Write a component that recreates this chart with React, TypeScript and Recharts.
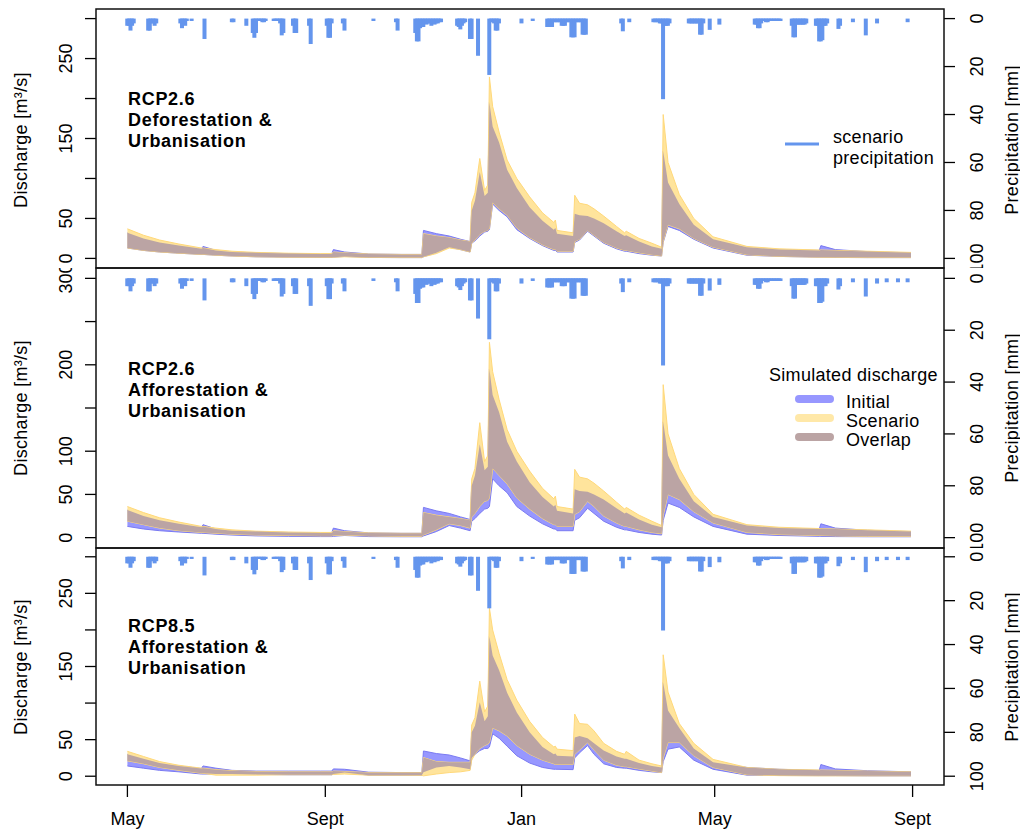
import React from 'react';
import { ComposedChart, Area, Bar, XAxis, YAxis } from 'recharts';

// ---------- data ----------
const N_DAYS = 488; // 1 May .. 31 Aug of the following year

const monthTickDays = [0, 123, 245, 365, 488];
const monthTickLabels = ['May', 'Sept', 'Jan', 'May', 'Sept'];
const dischargeTicks = [0, 50, 100, 150, 200, 250, 300];
const precipTicks = [0, 20, 40, 60, 80, 100];

const panelTitles = [
  ['RCP2.6', 'Deforestation &', 'Urbanisation'],
  ['RCP2.6', 'Afforestation &', 'Urbanisation'],
  ['RCP8.5', 'Afforestation &', 'Urbanisation'],
];
const legendLabels = ['Initial', 'Scenario', 'Overlap'];

// daily precipitation (day index, mm), zero days omitted
const precipEvents: [number, number][] = [
  [0, 3], [1, 3], [2, 5], [3, 3], [4, 2],
  [13, 5], [14, 5], [15, 2], [16, 2], [17, 3], [18, 2],
  [33, 2], [34, 4], [35, 2], [36, 3], [37, 1], [40, 1], [48, 8.5],
  [65, 1.5], [66, 1.5], [74, 3],
  [78, 6], [79, 8], [80, 6], [81, 1], [82, 1], [83, 1], [84, 1.5], [85, 1.5], [86, 1],
  [91, 1], [92, 1], [93, 1], [94, 1], [95, 2], [96, 7], [97, 6],
  [103, 3], [104, 6], [105, 6], [113, 3], [114, 10.6],
  [124, 3], [125, 8], [126, 8], [127, 2], [134, 2], [135, 5], [153, 1],
  [167, 1.5], [168, 5],
  [179, 6], [180, 9.5], [181, 9.5], [182, 4], [183, 3.5], [184, 3.5], [185, 2], [186, 2.5],
  [187, 2], [188, 2], [189, 3], [190, 2], [191, 2.5], [192, 2], [193, 2], [194, 1.5], [195, 1.5],
  [205, 3], [206, 3.5], [207, 4.5], [208, 3], [209, 2], [210, 1.5],
  [213, 8.5], [214, 8.5], [218, 15.5],
  [225, 23.5], [226, 1.5], [227, 1.5], [228, 2], [229, 5], [230, 5], [231, 2],
  [245, 2], [252, 1],
  [261, 3.5], [262, 3.5], [263, 3.5], [264, 3.5], [265, 1.5], [266, 1.5], [267, 1.5], [268, 1.5],
  [269, 1.5], [270, 3], [271, 3], [272, 3], [273, 1.5], [274, 1.5], [275, 1.5], [276, 7.8],
  [277, 7.8], [278, 7.8], [279, 1.5], [280, 1.5], [281, 1.5], [282, 1.5], [283, 6.7], [284, 6.7], [285, 6.7],
  [307, 2], [308, 5.3], [312, 1.5],
  [327, 1.5], [328, 1.5], [329, 1.5], [330, 1.5], [331, 2], [332, 2], [333, 33.6], [334, 3],
  [335, 3], [336, 3], [337, 2],
  [349, 2], [350, 2], [351, 2], [352, 2], [353, 2], [354, 2], [355, 2], [356, 6.7], [357, 6.7], [358, 2],
  [362, 4.7], [368, 2.5],
  [390, 2.5], [391, 2.5], [392, 4], [393, 4], [394, 2], [395, 1], [396, 1], [397, 1.5], [398, 1.5],
  [399, 1], [400, 1], [401, 1], [402, 1], [403, 1], [404, 1], [405, 1], [406, 1],
  [413, 3], [414, 7.8], [415, 7.8], [416, 2.5], [417, 2.5], [418, 2.5], [419, 2.5], [420, 2.5], [421, 2.5], [422, 2],
  [428, 3], [429, 3], [430, 9.5], [431, 9.5], [432, 9], [433, 3], [434, 3], [435, 2],
  [442, 4.3], [443, 3], [451, 1.5], [459, 7], [466, 2], [485, 1.5],
];
const precipLateExtra: [number, number][] = [[472, 1.5], [479, 1.5]];

// discharge key days (m3/s values given at these days)
const keyDays = [
  0, 10, 20, 32, 46, 47, 55, 65, 80, 100,
  120, 127, 128, 135, 150, 170, 183, 184, 192, 200,
  207, 213, 214, 216, 219, 222, 224, 225, 227, 231,
  236, 242, 250, 258, 265, 266, 267, 277, 278, 281,
  286, 290, 296, 304, 309, 310, 318, 326, 332, 333,
  336, 343, 352, 364, 385, 405, 430, 431, 440, 460,
  487,
];

// RCP2.6 initial land use (shared by panels 1 and 2)
const initHi26 = [
  32, 25, 20, 16, 12, 15, 10, 8, 7, 6,
  5.5, 5.5, 11, 8, 5.5, 5, 5, 35, 31, 28,
  24, 21, 60, 72, 108, 78, 82, 195, 165, 145,
  111, 88, 64, 47, 36, 38, 31, 28, 56, 54,
  53, 50, 44, 34, 28, 29, 21, 15, 12, 134,
  95, 68, 42, 24, 14, 11, 10, 16, 11, 8.5,
  7,
];
const initLo26 = [
  13, 10, 8, 6.5, 5, 5, 4, 3, 2, 1.5,
  1.2, 1.2, 1.5, 2.5, 1.2, 1, 1, 2, 7, 14,
  11, 8, 19, 22, 28, 33, 34, 36, 68, 60,
  52, 36, 25, 16, 10, 10, 8, 8, 20, 23,
  34, 28, 19, 12, 9, 9, 6, 4, 3, 20,
  40, 35, 24, 13, 4, 2.5, 1.5, 1.5, 1.2, 1,
  1,
];
// RCP2.6 deforestation & urbanisation scenario
const scenHiDefor26 = [
  37, 29, 23, 18, 13, 13, 11, 9, 7.5, 6.5,
  6, 6, 8, 7, 5.5, 5, 5, 31, 28, 26,
  23, 21, 70, 82, 125, 85, 92, 227, 190, 158,
  123, 100, 77, 57, 45, 48, 35, 32, 79, 69,
  67, 62, 53, 40, 32, 34, 25, 19, 14, 180,
  120, 80, 50, 27, 15, 12, 10.5, 10.5, 10, 9,
  7.5,
];
const scenLoDefor26 = [
  13, 10, 8, 6.5, 5, 5, 4, 3, 2, 1.5,
  1.2, 1.2, 1.5, 2, 1.2, 1, 1, 2, 6, 13,
  11, 8, 19, 23, 30, 34, 35, 37, 70, 62,
  54, 38, 26, 17, 11, 11, 9, 9, 21, 24,
  35, 29, 20, 13, 10, 10, 7, 4.5, 3, 21,
  42, 37, 25, 14, 4.5, 2.5, 1.5, 1.5, 1.2, 1,
  1,
];
// RCP2.6 afforestation & urbanisation scenario
const scenHiAffor26 = [
  36, 29, 23, 18, 13, 13, 11, 9, 7.5, 6.5,
  6, 6, 8, 7, 5.5, 5, 5, 29, 26, 24,
  22, 20, 68, 80, 133, 88, 95, 226, 192, 160,
  125, 100, 77, 57, 45, 48, 36, 33, 79, 70,
  68, 63, 54, 41, 33, 35, 26, 19, 14, 177,
  120, 80, 50, 27, 15, 12, 10.5, 10.5, 10, 9,
  7.5,
];
const scenLoAffor26 = [
  19, 15, 11, 8, 6, 6, 5, 4, 3, 2.5,
  2, 2, 2.5, 3, 2, 1.5, 1.5, 3, 9, 16,
  14, 11, 24, 28, 36, 42, 43, 46, 80, 72,
  62, 46, 33, 22, 15, 15, 13, 13, 27, 30,
  42, 36, 25, 17, 13, 13, 9, 6, 4.5, 26,
  50, 44, 30, 17, 6, 3.5, 2.5, 2.5, 2, 1.5,
  1.5,
];
// RCP8.5 initial land use
const initHi85 = [
  30, 24, 18, 14, 10.5, 14, 11, 8, 7, 7,
  7, 7, 10, 9.5, 5.5, 5, 5, 34.5, 31, 29,
  25, 21, 60, 69, 101, 75, 82, 191, 165, 145,
  114, 87, 60, 40, 30, 31, 28, 27, 53, 55,
  52, 45, 35, 27, 24, 24, 18, 14, 12, 128,
  90, 66, 38, 19, 12, 9.5, 8, 16, 10, 7.5,
  6,
];
const initLo85 = [
  14, 11, 8, 6, 3, 3, 3, 3, 2.5, 2,
  2, 2, 3, 5, 1.5, 1.4, 1.4, 5.5, 12, 14,
  12, 9.5, 25, 30, 35, 38, 38, 40, 58, 52,
  41, 28, 18, 12, 9.5, 9.5, 9.5, 9, 25, 32,
  42, 30, 17, 12, 11, 11, 8, 6, 5, 20,
  37, 40, 22, 9.5, 1.5, 1, 0.8, 0.8, 0.8, 0.5,
  0.5,
];
// RCP8.5 afforestation & urbanisation scenario
const scenHi85 = [
  34, 27, 20, 15, 11, 11, 9, 7.5, 6.5, 6,
  6, 6, 7, 6.5, 5, 5, 5, 25.5, 20, 19,
  19, 19, 70, 80, 130, 88, 96, 230, 200, 168,
  132, 104, 75, 53, 40, 41, 37, 35, 85, 72,
  71, 62, 45, 34, 30, 34, 22, 17, 14, 166,
  115, 72, 45, 23, 12, 9.5, 8.5, 8.5, 8, 7,
  6,
];
const scenLo85 = [
  21, 17, 12, 8, 4, 4, 1.5, 1.5, 1.5, 2,
  2, 2, 2.5, 3, 1.4, 1.4, 1.2, 0.5, 3, 5,
  6, 8, 22, 30, 38, 42, 44, 46, 66, 62,
  55, 42, 30, 22, 17, 16, 16, 16, 30, 36,
  46, 36, 22, 15, 13, 13, 10, 7, 5, 25,
  46, 46, 28, 12, 2, 0.8, 0.5, 0.5, 0.5, 0.5,
  0.5,
];

// ---------- table building ----------
function buildRows(
  events: [number, number][],
  iLo: number[], iHi: number[], sLo: number[], sHi: number[],
) {
  const precip = new Map<number, number>(events);
  const keyIndex = new Map<number, number>(keyDays.map((d, i) => [d, i]));
  const rows: any[] = [];
  for (let d = 0; d < N_DAYS; d++) {
    const row: any = { day: d };
    const p = precip.get(d);
    if (p) row.p = p;
    const k = keyIndex.get(d);
    if (k !== undefined) {
      row.init = [iLo[k], iHi[k]];
      row.scen = [sLo[k], sHi[k]];
      const lo = Math.max(iLo[k], sLo[k]);
      const hi = Math.min(iHi[k], sHi[k]);
      row.over = [lo, Math.max(lo, hi)];
    }
    rows.push(row);
  }
  return rows;
}

const rows1 = buildRows(precipEvents, initLo26, initHi26, scenLoDefor26, scenHiDefor26);
const rows2 = buildRows([...precipEvents, ...precipLateExtra], initLo26, initHi26, scenLoAffor26, scenHiAffor26);
const rows3 = buildRows([...precipEvents, ...precipLateExtra], initLo85, initHi85, scenLo85, scenHi85);

// ---------- styling ----------
const FONT = '"Liberation Sans", Arial, Helvetica, sans-serif';
const C_INIT = '#9797ff';
const C_INIT_EDGE = '#7a7af2';
const C_SCEN = '#ffe49c';
const C_OVER = '#bba4a4';
const C_PRECIP = '#6495ED';
const PRECIP_W = 4;

const CHART_W = 1020;
const LEFT_W = 96;
const RIGHT_W = 76;
const X_AXIS_H = 47;

const panels = [
  { top: 9, height: 259, rows: rows1, leftLabels: [0, 50, 150, 250], showX: false },
  { top: 268, height: 280, rows: rows2, leftLabels: [0, 50, 100, 200, 300], showX: false },
  { top: 548, height: 237, rows: rows3, leftLabels: [0, 50, 150, 250], showX: true },
];

function makeLeftTick(labeled: number[]) {
  return (props: any) => {
    const { y, payload } = props;
    if (!labeled.includes(payload.value)) return <g />;
    return (
      <text x={72} y={y} transform={`rotate(-90 72 ${y})`} textAnchor="middle"
        fontSize={18} fontFamily={FONT} fill="#000">{payload.value}</text>
    );
  };
}

const rightTick = (props: any) => {
  const { y, payload } = props;
  return (
    <text x={983} y={y} transform={`rotate(-90 983 ${y})`} textAnchor="middle"
      fontSize={18} fontFamily={FONT} fill="#000">{payload.value}</text>
  );
};

function makeXTick(height: number) {
  return (props: any) => {
    const { x, payload } = props;
    const i = monthTickDays.indexOf(payload.value);
    return (
      <text x={x} y={height + 40} textAnchor="middle" fontSize={18} fontFamily={FONT} fill="#000">
        {monthTickLabels[i]}
      </text>
    );
  };
}

// precipitation drawn as a thick vertical stroke centred on its day
const precipShape = (props: any) => {
  const { x, y, width, height } = props;
  if (x == null || y == null || !height) return <g />;
  const cx = x + width / 2;
  const top = Math.min(y, y + height);
  const h = Math.abs(height);
  return <rect x={cx - PRECIP_W / 2} y={top} width={PRECIP_W} height={h} fill={C_PRECIP} />;
};

function Panel({ cfg }: { cfg: typeof panels[number] }) {
  const h = cfg.height + (cfg.showX ? X_AXIS_H : 0);
  return (
    <div style={{ position: 'absolute', left: 0, top: cfg.top }}>
      <ComposedChart width={CHART_W} height={h} data={cfg.rows}
        margin={{ top: 0, right: 0, bottom: 0, left: 0 }}>
        <XAxis dataKey="day" type="number" domain={[-19.52, 507.52]} allowDataOverflow
          ticks={monthTickDays} hide={!cfg.showX} height={X_AXIS_H} axisLine={false}
          tickSize={12} tickLine={{ stroke: '#000', strokeWidth: 1.3 }}
          tick={makeXTick(cfg.height)} interval={0} />
        <YAxis yAxisId="left" orientation="left" type="number" domain={[-12, 312]}
          allowDataOverflow ticks={dischargeTicks} width={LEFT_W} axisLine={false}
          tickSize={11} tickLine={{ stroke: '#000', strokeWidth: 1.3 }}
          tick={makeLeftTick(cfg.leftLabels)} interval={0} />
        <YAxis yAxisId="right" orientation="right" type="number" domain={[-4, 104]}
          reversed allowDataOverflow ticks={precipTicks} width={RIGHT_W} axisLine={false}
          tickSize={11} tickLine={{ stroke: '#000', strokeWidth: 1.3 }}
          tick={rightTick} interval={0} />
        <Area yAxisId="left" dataKey="init" type="linear" connectNulls
          fill={C_INIT} fillOpacity={1} stroke={C_INIT_EDGE} strokeWidth={1}
          isAnimationActive={false} dot={false} activeDot={false} />
        <Area yAxisId="left" dataKey="scen" type="linear" connectNulls
          fill={C_SCEN} fillOpacity={1} stroke="#ffd97a" strokeWidth={1}
          isAnimationActive={false} dot={false} activeDot={false} />
        <Area yAxisId="left" dataKey="over" type="linear" connectNulls
          fill={C_OVER} fillOpacity={1} stroke="none"
          isAnimationActive={false} dot={false} activeDot={false} />
        <Bar yAxisId="right" dataKey="p" fill={C_PRECIP} shape={precipShape}
          isAnimationActive={false} />
      </ComposedChart>
    </div>
  );
}

export default function App() {
  const titleStyle = { fontFamily: FONT, fontSize: 18, fill: '#000', letterSpacing: 0.3 } as const;
  const panelTitleY = [[105, 126, 147], [375, 396, 417], [632, 653, 674]];
  const axisTitleY = [140, 408, 667];
  return (
    <div style={{ position: 'absolute', left: 0, top: 0, width: 1020, height: 832, background: '#fff', overflow: 'hidden' }}>
      {panels.map((p, i) => <Panel key={i} cfg={p} />)}
      <svg width={1020} height={832} style={{ position: 'absolute', left: 0, top: 0, pointerEvents: 'none' }}>
        {panels.map((p, i) => (
          <rect key={'b' + i} x={96} y={p.top} width={848} height={p.height}
            fill="none" stroke="#111" strokeWidth={1.5} />
        ))}
        {panelTitles.map((lines, i) => (
          <g key={'t' + i}>
            {lines.map((s, j) => (
              <text key={j} x={128} y={panelTitleY[i][j]} fontFamily={FONT} fontSize={18}
                fontWeight="bold" letterSpacing={0.7} fill="#000">{s}</text>
            ))}
          </g>
        ))}
        {axisTitleY.map((y, i) => (
          <g key={'a' + i}>
            <text x={27} y={y} transform={`rotate(-90 27 ${y})`} textAnchor="middle" {...titleStyle}>
              Discharge [m³/s]
            </text>
            <text x={1018} y={y} transform={`rotate(-90 1018 ${y})`} textAnchor="middle" {...titleStyle}>
              Precipitation [mm]
            </text>
          </g>
        ))}
        {/* precipitation legend (panel 1) */}
        <line x1={785} x2={819} y1={144} y2={144} stroke={C_PRECIP} strokeWidth={3} />
        <text x={833} y={143} {...titleStyle}>scenario</text>
        <text x={833} y={164} {...titleStyle}>precipitation</text>
        {/* discharge legend (panel 2) */}
        <text x={769} y={381} {...titleStyle}>Simulated discharge</text>
        {legendLabels.map((s, i) => (
          <g key={'l' + i}>
            <line x1={799} x2={830} y1={399 + 19 * i} y2={399 + 19 * i}
              stroke={[C_INIT, '#ffe8a8', C_OVER][i]} strokeWidth={8} strokeLinecap="round" />
            <text x={846} y={408 + 19 * i} {...titleStyle}>{s}</text>
          </g>
        ))}
      </svg>
    </div>
  );
}
